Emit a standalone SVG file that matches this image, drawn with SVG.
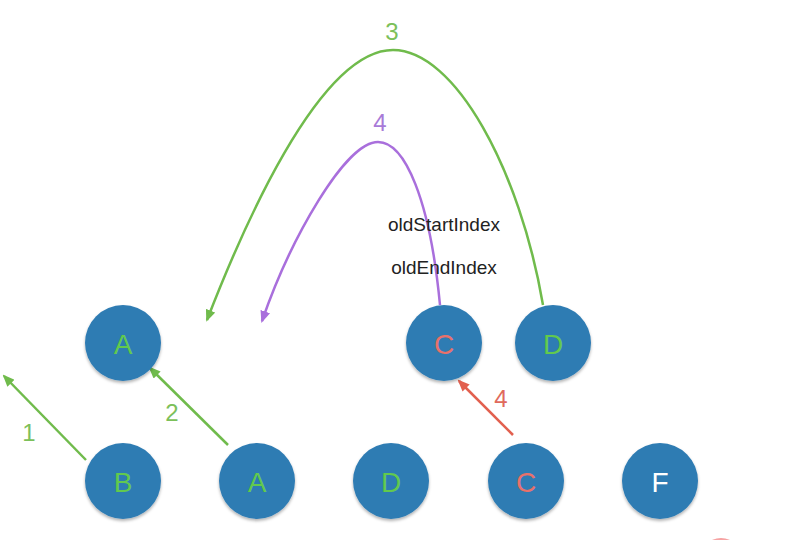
<svg xmlns="http://www.w3.org/2000/svg" width="798" height="540" viewBox="0 0 798 540">
<style>
.node{fill:#2f7cb3;filter:url(#sh)}
.lt{font-family:"Liberation Sans",Arial,sans-serif;font-size:28px;text-anchor:middle;dominant-baseline:central}
.g{fill:#62c94e}
.r{fill:#e8716b}
.w{fill:#ffffff}
.lbl{font-family:"Liberation Sans",Arial,sans-serif;font-size:24px;text-anchor:middle}
.idx{font-family:"Liberation Sans",Arial,sans-serif;font-size:19px;fill:#222;text-anchor:middle}
.cg{fill:none;stroke:#70bb4c;stroke-width:2.5}
.cp{fill:none;stroke:#a96fdc;stroke-width:2.5}
.cr{fill:none;stroke:#e2604f;stroke-width:2.5}
</style>
<defs>
<filter id="sh" x="-20%" y="-20%" width="140%" height="150%">
<feDropShadow dx="0" dy="2" stdDeviation="1.5" flood-color="#000" flood-opacity="0.3"/>
</filter>
<marker id="ag" viewBox="0 0 12 10" refX="10" refY="5" markerWidth="12" markerHeight="10" orient="auto" markerUnits="userSpaceOnUse"><path d="M0,0 L12,5 L0,10 z" fill="#70bb4c"/></marker>
<marker id="ap" viewBox="0 0 12 10" refX="10" refY="5" markerWidth="12" markerHeight="10" orient="auto" markerUnits="userSpaceOnUse"><path d="M0,0 L12,5 L0,10 z" fill="#a96fdc"/></marker>
<marker id="ar" viewBox="0 0 12 10" refX="10" refY="5" markerWidth="12" markerHeight="10" orient="auto" markerUnits="userSpaceOnUse"><path d="M0,0 L12,5 L0,10 z" fill="#e2604f"/></marker>
</defs>
<rect width="798" height="540" fill="#ffffff"/>
<g id="connectors">
<path class="cg" d="M543,305 C520,170 455,50 393,50 C318,50 240,235 207,320" marker-end="url(#ag)"/>
<path class="cp" d="M440,305 C430,200 405,142 378,142 C345,142 290,240 262,321" marker-end="url(#ap)"/>
<path class="cg" d="M86,460 L4,376" marker-end="url(#ag)"/>
<path class="cg" d="M228,445 L150,368" marker-end="url(#ag)"/>
<path class="cr" d="M513,435 L459,381" marker-end="url(#ar)"/>
<text class="lbl" x="29" y="441" style="fill:#7cc05a">1</text>
<text class="lbl" x="172" y="421" style="fill:#7cc05a">2</text>
<text class="lbl" x="392" y="40" style="fill:#7cc05a">3</text>
<text class="lbl" x="380" y="131" style="fill:#a87ad8">4</text>
<text class="lbl" x="501" y="407" style="fill:#e06a5c">4</text>
</g>
<text class="idx" x="444" y="231">oldStartIndex</text>
<text class="idx" x="444" y="274">oldEndIndex</text>
<g id="top-A"><circle class="node" cx="123" cy="343" r="38"/><text class="lt g" x="123" y="344">A</text></g>
<g id="top-C"><circle class="node" cx="444" cy="343" r="38"/><text class="lt r" x="444" y="344">C</text></g>
<g id="top-D"><circle class="node" cx="553" cy="343" r="38"/><text class="lt g" x="553" y="344">D</text></g>
<g id="bot-B"><circle class="node" cx="123" cy="481" r="38"/><text class="lt g" x="123" y="482">B</text></g>
<g id="bot-A"><circle class="node" cx="257" cy="481" r="38"/><text class="lt g" x="257" y="482">A</text></g>
<g id="bot-D"><circle class="node" cx="391" cy="481" r="38"/><text class="lt g" x="391" y="482">D</text></g>
<g id="bot-C"><circle class="node" cx="526" cy="481" r="38"/><text class="lt r" x="526" y="482">C</text></g>
<g id="bot-F"><circle class="node" cx="660" cy="481" r="38"/><text class="lt w" x="660" y="482">F</text></g>
<circle cx="721" cy="560" r="22" fill="#f6a3a3"/>
</svg>
